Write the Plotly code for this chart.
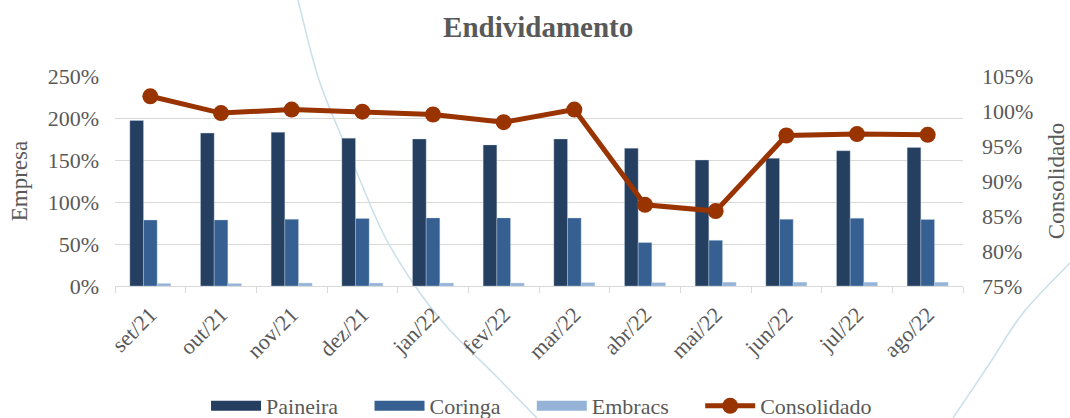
import plotly.graph_objects as go

categories = ["set/21", "out/21", "nov/21", "dez/21", "jan/22", "fev/22",
              "mar/22", "abr/22", "mai/22", "jun/22", "jul/22", "ago/22"]
paineira = [197, 182, 183, 176, 175, 168, 175, 164, 150, 152, 161, 165]
coringa = [78.5, 78.7, 79.5, 80.4, 81.1, 81.1, 80.9, 51.7, 54.4, 79.5, 80.7, 79.2]
embracs = [3, 3, 3.5, 3.5, 3.5, 3.5, 4, 4, 4.5, 4.5, 4.5, 4.5]
consolidado = [102.1, 99.7, 100.2, 99.9, 99.5, 98.4, 100.2, 86.6, 85.7, 96.5, 96.7, 96.6]

C_PAI = "#253f60"
C_COR = "#376092"
C_EMB = "#95b3d7"
C_CON = "#993300"
TXT = "#595959"
FONT = "Liberation Serif, Times New Roman, serif"

W, H = 1070, 418
ML, MR, MT, MB = 115, 107, 76, 132
PW, PH = W - ML - MR, H - MT - MB

PAD = "\u00a0" * 4 + "\u2009"

fig = go.Figure()
for name, vals, col in [("Paineira", paineira, C_PAI), ("Coringa", coringa, C_COR), ("Embracs", embracs, C_EMB)]:
    fig.add_trace(go.Bar(x=categories, y=vals, name=name,
                         marker=dict(color=col, line=dict(width=0.6, color="rgba(200,215,235,0.6)")),
                         showlegend=False, hovertemplate="%{y:.1f}%"))
    fig.add_trace(go.Scatter(x=[None], y=[None], mode="lines", name=name + PAD,
                             line=dict(color=col, width=13)))

fig.add_trace(go.Scatter(x=categories, y=consolidado, name="Consolidado", yaxis="y2",
                         mode="lines+markers", line=dict(color=C_CON, width=5),
                         marker=dict(color=C_CON, size=16)))

def px2paper(px, py):
    return (px - ML) / PW, (MT + PH - py) / PH

def smooth_path(points):
    pts = [px2paper(*p) for p in points]
    s = f"M{pts[0][0]:.4f},{pts[0][1]:.4f} "
    for i in range(len(pts) - 1):
        p0 = pts[i - 1] if i > 0 else pts[i]
        p1, p2 = pts[i], pts[i + 1]
        p3 = pts[i + 2] if i + 2 < len(pts) else p2
        c1 = (p1[0] + (p2[0] - p0[0]) / 6, p1[1] + (p2[1] - p0[1]) / 6)
        c2 = (p2[0] - (p3[0] - p1[0]) / 6, p2[1] - (p3[1] - p1[1]) / 6)
        s += f"C{c1[0]:.4f},{c1[1]:.4f} {c2[0]:.4f},{c2[1]:.4f} {p2[0]:.4f},{p2[1]:.4f} "
    return s

curve1 = [(298, 0), (318, 77), (340, 133), (357, 173), (383, 233), (413, 283),
          (447, 327), (493, 373), (537, 418)]
curve2 = [(953, 418), (990, 363), (1023, 313), (1070, 263)]
shapes = [dict(type="path", path=smooth_path(c), xref="paper", yref="paper", layer="below",
               line=dict(color="#c9dfea", width=1.5)) for c in (curve1, curve2)]

fig.update_layout(
    width=W, height=H,
    margin=dict(l=ML, r=MR, t=MT, b=MB, autoexpand=False),
    paper_bgcolor="white", plot_bgcolor="rgba(0,0,0,0)",
    font=dict(family=FONT, color=TXT, size=21),
    title=dict(text="<b>Endividamento</b>", x=0.503, xref="container", y=1 - 27 / H,
               yref="container", yanchor="middle", xanchor="center",
               font=dict(size=29, color=TXT, family=FONT)),
    barmode="group", bargap=0.42, bargroupgap=0,
    shapes=shapes,
    xaxis=dict(type="category", range=[-0.5, len(categories) - 0.5], showgrid=False,
               showline=True, linecolor="#d9d9d9", linewidth=1,
               ticks="outside", tickson="boundaries", ticklen=6, tickcolor="#d9d9d9",
               tickangle=-45, tickfont=dict(size=22, color=TXT, family=FONT),
               ticklabelstandoff=6, automargin=False),
    yaxis=dict(range=[0, 250], dtick=50, ticksuffix="%", showgrid=True, gridcolor="#d9d9d9",
               gridwidth=1.2, zeroline=False, tickfont=dict(size=22, color=TXT, family=FONT),
               ticklabelstandoff=15, automargin=False,
               title=dict(text="Empresa", font=dict(size=23, color=TXT, family=FONT), standoff=13)),
    yaxis2=dict(range=[75, 105], dtick=5, ticksuffix="%", overlaying="y", side="right",
                showgrid=False, zeroline=False, tickfont=dict(size=22, color=TXT, family=FONT),
                ticklabelstandoff=18, automargin=False,
                title=dict(text="Consolidado", font=dict(size=23, color=TXT, family=FONT), standoff=15)),
    legend=dict(orientation="h", x=0.503, xanchor="center", y=(MT + PH - 406) / PH, yanchor="middle",
                font=dict(size=22, color=TXT, family=FONT), itemwidth=50, traceorder="normal",
                bgcolor="rgba(0,0,0,0)"),
    showlegend=True,
)

fig.write_html("out.html", config={"displayModeBar": False},
               post_script="document.body.style.margin='0';document.body.style.overflow='hidden';")
